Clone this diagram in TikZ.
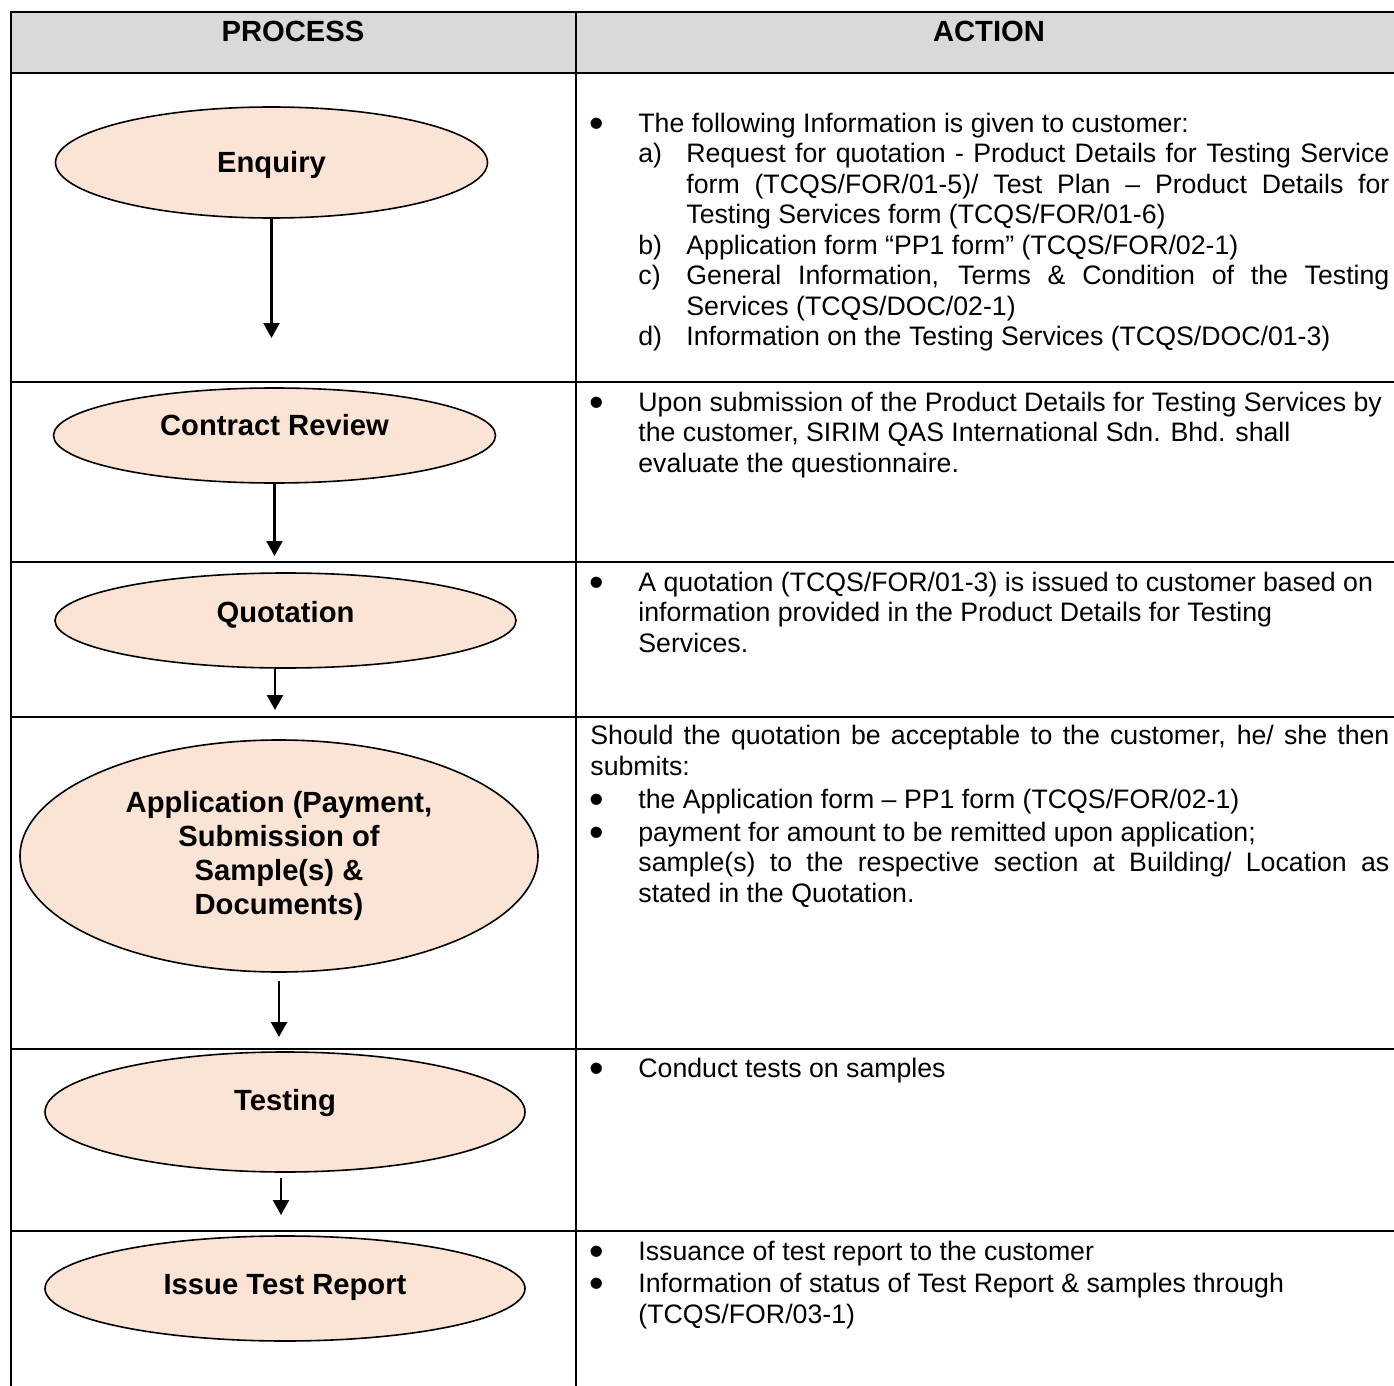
\documentclass[tikz,border=0pt]{standalone}
\usepackage{fontspec}
\setmainfont{Liberation Sans}
\usetikzlibrary{arrows.meta,shapes.geometric}
\definecolor{stagefill}{HTML}{FBE4D5}
\definecolor{headgray}{HTML}{D9D9D9}
\tolerance=9999
\hbadness=10000
% bullet line and lettered line for the action column
\newcommand{\bigdot}{\smash{\raisebox{-2.5pt}{\fontsize{20.7pt}{0pt}\selectfont\textbullet}}}
\newcommand{\bul}[1]{\par\noindent\hangindent=24pt\hangafter=0\llap{\makebox[24pt][l]{\hspace{-0.5pt}\bigdot}}#1\par}
\newcommand{\lettered}[2]{\par\noindent\hangindent=48pt\hangafter=0\llap{\makebox[24pt][l]{#1}}#2\par}

\begin{document}
\begin{tikzpicture}[x=0.5pt, y=-0.5pt,
    rule/.style={line width=1.3pt, line cap=rect},
    stage/.style={ellipse, draw, line width=0.8pt, fill=stagefill, inner sep=0pt, align=center, font=\fontsize{14.6pt}{17pt}\selectfont\bfseries},
    lift/.style={text height=10.45pt, text depth=#1},
    head/.style={anchor=base, font=\fontsize{14.6pt}{17pt}\selectfont\bfseries},
    info/.style={anchor=north west, inner sep=0pt, text width=399.5pt, align=justify, font=\fontsize{13.35pt}{15.25pt}\selectfont},
    flow/.style={-{Triangle[width=8pt,length=7.5pt]}, line width=1.2pt}
]
    \useasboundingbox (0,0) rectangle (1394,1386);

    % table
    \fill[headgray] (11,12) rectangle (1394,73);
    \foreach \y in {12,73,382,562,717,1049,1231}
        \draw[rule] (11,\y) -- (1394,\y);
    \draw[rule] (11,12) -- (11,1386);
    \draw[rule] (576,12) -- (576,1386);

    \node[head] (process) at (293,41.5) {PROCESS};
    \node[head] (action) at (989,41.5) {ACTION};

    % process stages
    \node[stage, lift=0pt, minimum width=216pt, minimum height=55.5pt] (enquiry) at (271.5,162.5) {Enquiry};
    \node[stage, lift=10pt, minimum width=221pt, minimum height=47.5pt] (review) at (274.5,435.5) {Contract Review};
    \node[stage, lift=8pt, minimum width=230.5pt, minimum height=47.5pt] (quotation) at (285.5,620.5) {Quotation};
    \node[stage, minimum width=259pt, minimum height=116pt] (application) at (279,856) {Application (Payment,\\Submission of\\Sample(s) \&\\Documents)};
    \node[stage, lift=12pt, minimum width=240pt, minimum height=60pt] (testing) at (285,1112) {Testing};
    \node[stage, lift=4pt, minimum width=240pt, minimum height=52.5pt] (report) at (285,1288.5) {Issue Test Report};

    \coordinate (e1) at (271.5,338);
    \coordinate (e2) at (274.5,556);
    \coordinate (e3) at (275,710);
    \coordinate (e4) at (279,1037);
    \coordinate (e5) at (281,1215);
    \draw[flow] (enquiry) -- (e1);
    \draw[flow] (review) -- (e2);
    \draw[flow] (quotation.south -| e3) -- (e3);
    \draw[flow, shorten <=4pt] (application) -- (e4);
    \draw[flow, shorten <=2.5pt] (testing.south -| e5) -- (e5);

    % actions
    \node[info] (enquiryinfo) at (590,101.2) {%
        \bul{\strut The following Information is given to customer:}
        \lettered{a)}{Request for quotation - Product Details for Testing Service\linebreak form (TCQS/FOR/01-5)/ Test Plan – Product Details for\linebreak Testing Services form (TCQS/FOR/01-6)}
        \lettered{b)}{Application form “PP1 form” (TCQS/FOR/02-1)}
        \lettered{c)}{General Information, Terms \& Condition of the Testing\linebreak Services (TCQS/DOC/02-1)}
        \lettered{d)}{Information on the Testing Services (TCQS/DOC/01-3)}};
    \node[info] (reviewinfo) at (590,380.2) {%
        \bul{\strut Upon submission of the Product Details for Testing Services by\newline the customer, SIRIM QAS International Sdn. Bhd. shall\newline evaluate the questionnaire.}};
    \node[info] (quotationinfo) at (590,560.2) {%
        \bul{\strut A quotation (TCQS/FOR/01-3) is issued to customer based on\newline information provided in the Product Details for Testing\newline Services.}};
    \node[info] (applicationinfo) at (590,723.2) {%
        \noindent\strut Should the quotation be acceptable to the customer, he/ she then\linebreak submits:\par
        \vspace{1.5pt}\bul{\strut the Application form – PP1 form (TCQS/FOR/02-1)}
        \vspace{1pt}\bul{\strut payment for amount to be remitted upon application;}
        \noindent\hangindent=24pt\hangafter=0 sample(s) to the respective section at Building/ Location as\linebreak stated in the Quotation.\par};
    \node[info] (testinginfo) at (590,1046.2) {%
        \bul{\strut Conduct tests on samples}};
    \node[info] (reportinfo) at (590,1229.2) {%
        \bul{\strut Issuance of test report to the customer}
        \vspace{1pt}\bul{\strut Information of status of Test Report \& samples through\newline (TCQS/FOR/03-1)}};
\end{tikzpicture}
\end{document}
